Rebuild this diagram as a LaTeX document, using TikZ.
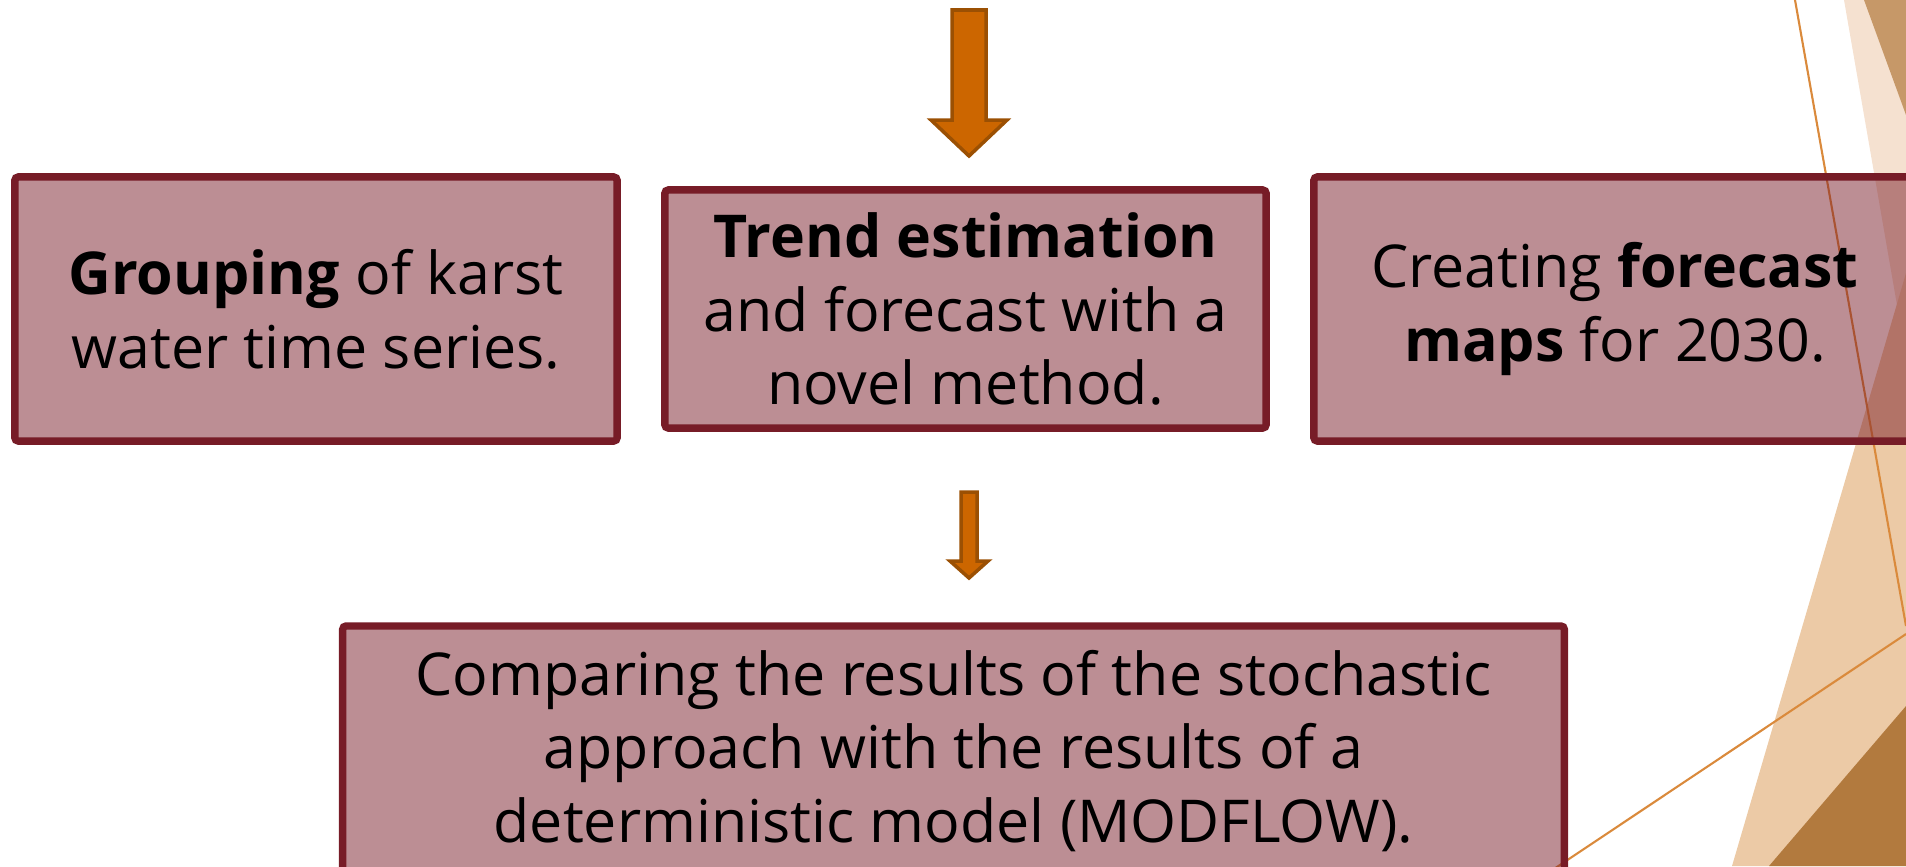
\documentclass[tikz,border=0pt]{standalone}
\usepackage{fontspec}
\setmainfont{Open Sans}
\usetikzlibrary{positioning,calc}
\definecolor{boxfill}{HTML}{7A1E2A}
\definecolor{boxline}{HTML}{771C27}
\definecolor{arrfill}{HTML}{CC6600}
\definecolor{arrline}{HTML}{9B5003}
\definecolor{facetpeach}{HTML}{F5E1D0}
\definecolor{facettan}{HTML}{C69868}
\definecolor{facetsand}{HTML}{ECCAA6}
\definecolor{facetumber}{HTML}{B27A3E}
\definecolor{facetline}{HTML}{DA8A3C}
\tikzset{
    x=0.01cm, y=-0.01cm,
    box/.style ={rectangle, draw=boxline, line width=2.1pt, rounded corners=1pt,
        fill=boxfill, fill opacity=0.5, text opacity=1, align=center, inner sep=0pt,
        font=\fontsize{16.8}{21}\selectfont},
    blockarrow/.style = {draw=arrline, fill=arrfill, line width=1pt, line join=miter},
    thread/.style = {draw=facetline, line width=0.6pt}
}

\begin{document}
\begin{tikzpicture}
    \clip (0,0) rectangle (1906,866);
    % facet background
    \fill[facetpeach] (1844,0) -- (1906,0) -- (1906,357) -- cycle;
    \fill[facettan] (1864,0) -- (1906,0) -- (1906,115) -- cycle;
    \fill[facetsand] (1732,866) -- (1906,273) -- (1906,866) -- cycle;
    \fill[facetumber] (1769,866) -- (1906,706) -- (1906,866) -- cycle;
    \coordinate (t1) at (1795,0);
    \coordinate (t2) at (1906,626);
    \coordinate (t3) at (1906,634);
    \coordinate (t4) at (1500,905);
    \draw[thread] (t1) -- (t2);
    \draw[thread] (t3) -- (t4);

    \node (group) at (316,309) [box, minimum width=6.02cm, minimum height=2.64cm]
        {\textbf{Grouping} of karst\\water time series.};
    \node (trend) at (965.5,309) [box, minimum width=6.01cm, minimum height=2.38cm]
        {\textbf{Trend estimation}\\and forecast with a\\novel method.};
    \node (maps) at (1615,309) [box, minimum width=6.02cm, minimum height=2.64cm]
        {Creating \textbf{forecast}\\\textbf{maps} for 2030.};
    \node (compare) at (953.5,751) [box, minimum width=12.21cm, minimum height=2.50cm]
        {Comparing the results of the stochastic\\approach with the results of a\\deterministic model (MODFLOW).};

    \draw[blockarrow] (952,10) -- (986,10) -- (986,120) -- (1007,120) -- (969,156)
        -- (931,120) -- (952,120) -- cycle;
    \draw[blockarrow] (961,492) -- (977,492) -- (977,561) -- (988,561) -- (969,578)
        -- (950,561) -- (961,561) -- cycle;
\end{tikzpicture}
\end{document}
